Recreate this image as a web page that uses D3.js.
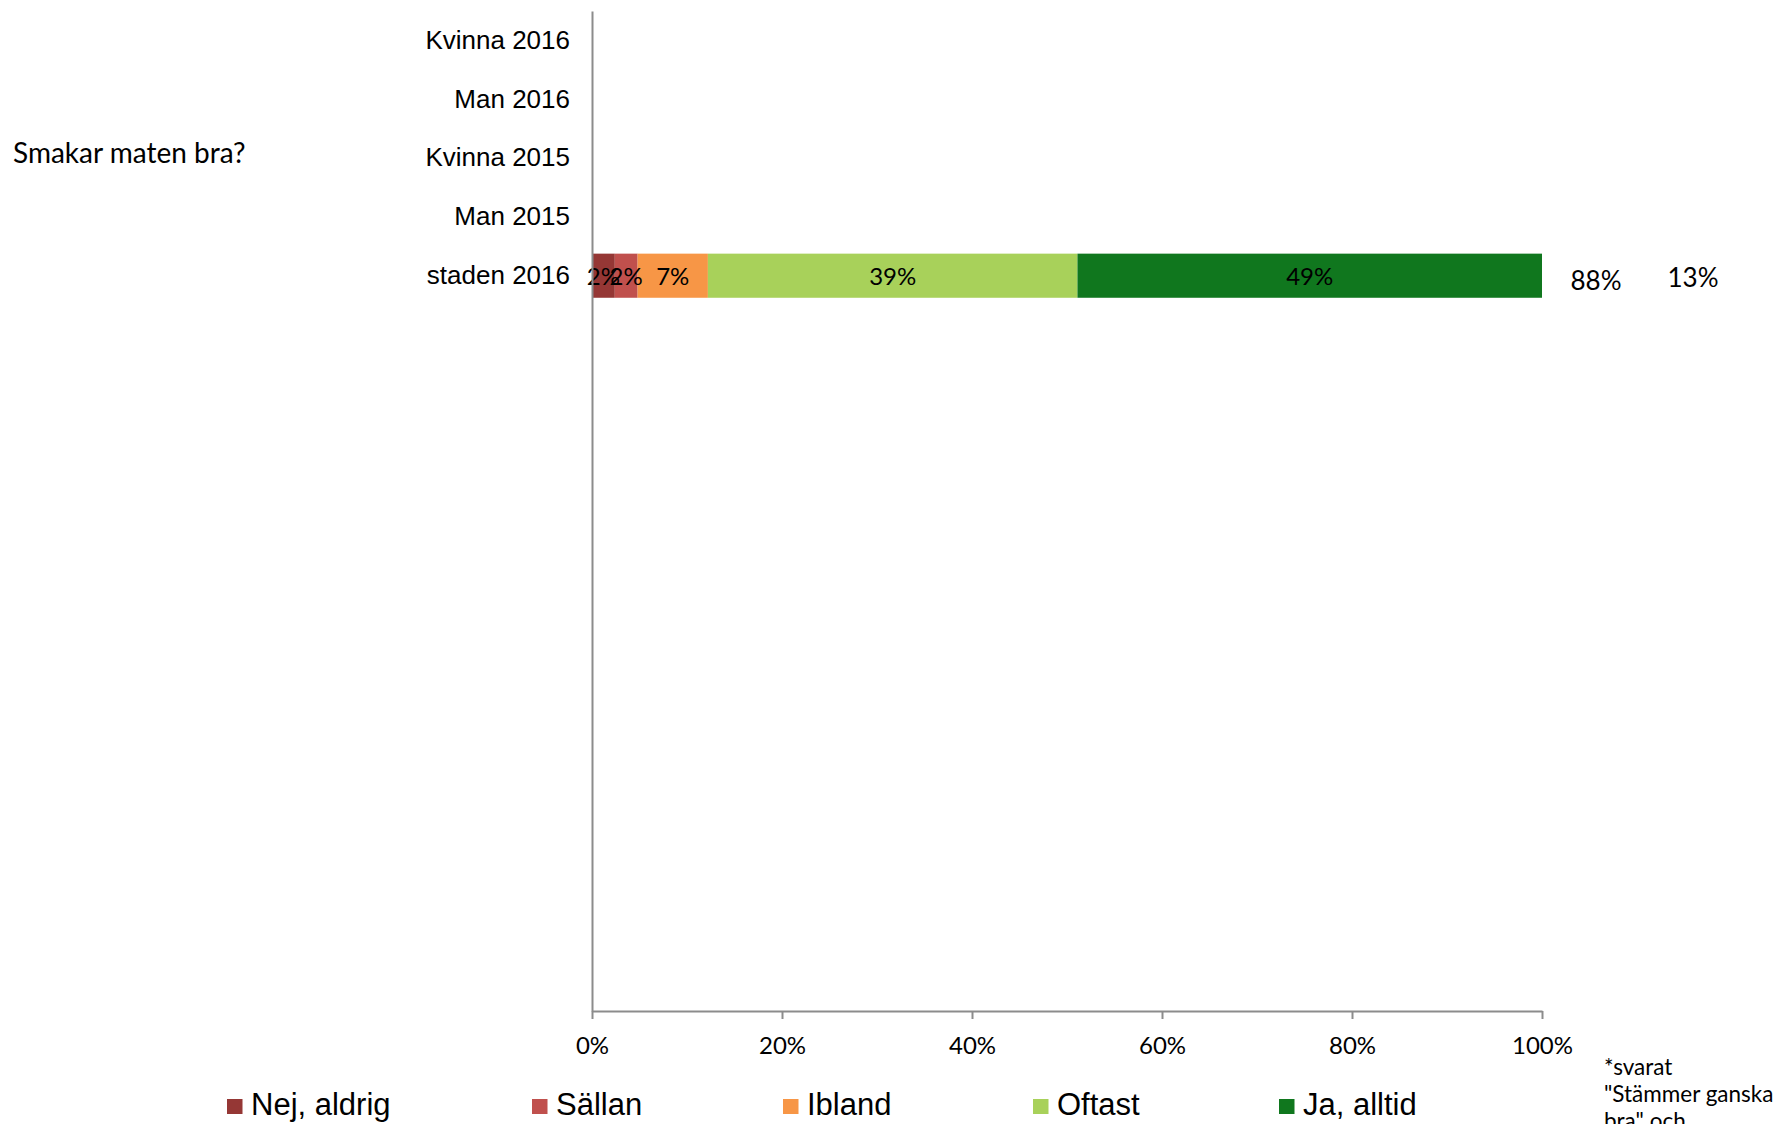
<!DOCTYPE html>
<html><head><meta charset="utf-8">
<script src="https://cdn.jsdelivr.net/npm/d3@7"></script>
<style>
html,body{margin:0;padding:0;background:#fff;}
svg{display:block;}
</style></head>
<body>
<svg id="chart" width="1779" height="1124"></svg>
<script>
// ---- data ----
const question = "Smakar maten bra?";
const categories = ["Kvinna 2016", "Man 2016", "Kvinna 2015", "Man 2015", "staden 2016"];
const slotCount = 17; // category slots on the axis (remaining slots empty)
const seriesNames = ["Nej, aldrig", "Sällan", "Ibland", "Oftast", "Ja, alltid"];
const seriesColors = ["#953735", "#C0504D", "#F79646", "#A8D15A", "#10771E"];
// values per category (null = no data), in percent
const nejAldrig = [null, null, null, null, 2.4];
const sallan    = [null, null, null, null, 2.4];
const ibland    = [null, null, null, null, 7.4];
const oftast    = [null, null, null, null, 38.9];
const jaAlltid  = [null, null, null, null, 48.9];
const positiveShare = [null, null, null, null, 88];
const negativeShare = [null, null, null, null, 13];
const xTicks = [0, 20, 40, 60, 80, 100];
const footnote = ["*svarat", "\"Stämmer ganska", "bra\" och"];

// ---- layout ----
const svg = d3.select("#chart");
const pLeft = 592, pRight = 1542, pTop = 11, pBottom = 1011;
const x = d3.scaleLinear().domain([0, 100]).range([pLeft, pRight]);
const y = d3.scaleBand().domain(d3.range(slotCount)).range([pTop, pBottom])
  .paddingInner(0.25).paddingOuter(0.125);
const axisColor = "#8c8c8c";
const calibri = "Lato, 'Open Sans', sans-serif";
const arial = "'Liberation Sans', Arial, sans-serif";

const series = [nejAldrig, sallan, ibland, oftast, jaAlltid];

// bars
categories.forEach((cat, ci) => {
  let acc = 0;
  series.forEach((s, si) => {
    const v = s[ci];
    if (v == null) return;
    const x0 = x(acc), x1 = x(acc + v);
    svg.append("rect").attr("x", x0).attr("y", y(ci))
      .attr("width", x1 - x0).attr("height", y.bandwidth())
      .attr("fill", seriesColors[si]);
    acc += v;
  });
});
// bar labels
categories.forEach((cat, ci) => {
  let acc = 0;
  series.forEach((s, si) => {
    const v = s[ci];
    if (v == null) return;
    svg.append("text").attr("x", x(acc + v / 2)).attr("y", y(ci) + y.bandwidth() / 2)
      .attr("text-anchor", "middle").attr("dominant-baseline", "central")
      .attr("font-family", calibri).attr("font-size", 24).attr("fill", "#000")
      .text(Math.round(v) + "%");
    acc += v;
  });
  if (positiveShare[ci] != null) {
    svg.append("text").attr("x", x(100) + 54).attr("y", y(ci) + y.bandwidth() / 2 + 4)
      .attr("text-anchor", "middle").attr("dominant-baseline", "central")
      .attr("font-family", calibri).attr("font-size", 26).attr("fill", "#000")
      .text(positiveShare[ci] + "%");
  }
  if (negativeShare[ci] != null) {
    svg.append("text").attr("x", x(100) + 151).attr("y", y(ci) + y.bandwidth() / 2 + 1)
      .attr("text-anchor", "middle").attr("dominant-baseline", "central")
      .attr("font-family", calibri).attr("font-size", 26).attr("fill", "#000")
      .text(negativeShare[ci] + "%");
  }
});

// y axis
const yAxis = svg.append("g").attr("transform", `translate(${pLeft},0)`)
  .call(d3.axisLeft(y).tickSize(0).tickSizeOuter(0).tickPadding(22)
    .tickFormat(i => categories[i] || ""));
yAxis.select(".domain").attr("stroke", axisColor).attr("stroke-width", 2);
yAxis.selectAll("text").attr("font-family", arial).attr("font-size", 26).attr("fill", "#000");

// x axis
const xAxis = svg.append("g").attr("transform", `translate(0,${pBottom})`)
  .call(d3.axisBottom(x).tickValues(xTicks).tickSize(8).tickSizeOuter(0).tickPadding(18)
    .tickFormat(d => d + "%"));
xAxis.select(".domain").attr("stroke", axisColor).attr("stroke-width", 2);
xAxis.selectAll(".tick line").attr("stroke", axisColor).attr("stroke-width", 2);
xAxis.selectAll("text").attr("font-family", calibri).attr("font-size", 24).attr("fill", "#000");

// question label
svg.append("text").attr("x", 13).attr("y", 152).attr("dominant-baseline", "central")
  .attr("font-family", calibri).attr("font-size", 28).attr("fill", "#000").text(question);

// legend
const legendX = [227, 532, 783, 1033, 1279];
seriesNames.forEach((name, i) => {
  svg.append("rect").attr("x", legendX[i]).attr("y", 1099)
    .attr("width", 15.5).attr("height", 15).attr("fill", seriesColors[i]);
  svg.append("text").attr("x", legendX[i] + 24).attr("y", 1115)
    .attr("font-family", arial).attr("font-size", 31).attr("fill", "#000")
    .text(name);
});

// footnote
footnote.forEach((line, i) => {
  svg.append("text").attr("x", 1604).attr("y", 1075 + i * 27)
    .attr("font-family", calibri).attr("font-size", 22.5).attr("fill", "#000").text(line);
});
</script>
</body></html>
